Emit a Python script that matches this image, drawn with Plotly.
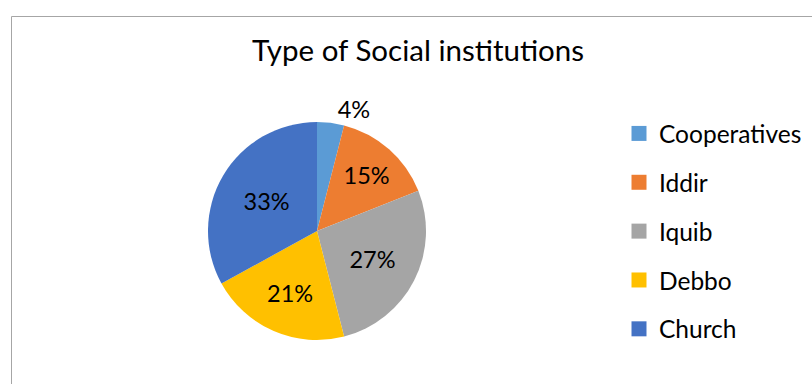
import plotly.graph_objects as go

categories = ["Cooperatives", "Iddir", "Iquib", "Debbo", "Church"]
values = [4, 15, 27, 21, 33]
colors = ["#5B9BD5", "#ED7D31", "#A5A5A5", "#FFC000", "#4472C4"]
title_text = "Type of Social institutions"

W, H = 812, 384
FONT = "Lato"

fig = go.Figure()
fig.add_trace(go.Pie(
    labels=categories, values=values, sort=False, direction="clockwise", rotation=0,
    marker=dict(colors=colors, line=dict(width=0)),
    texttemplate="%{percent:.0%}",
    textposition=["outside", "inside", "inside", "inside", "inside"],
    insidetextorientation="horizontal",
    textfont=dict(family=FONT, size=23.5, color="black"),
    outsidetextfont=dict(family=FONT, size=23.5, color="black"),
    showlegend=False, hoverinfo="label+percent",
    domain=dict(x=[208 / W, 426 / W], y=[(H - 340) / H, (H - 122) / H]),
))

for i, (c, col) in enumerate(zip(categories, colors)):
    fig.add_trace(go.Scatter(
        x=[None], y=[None], mode="markers", name=c, legendgroup=c,
        marker=dict(symbol="square", size=15, color=col),
    ))

fig.update_layout(
    width=W, height=H, margin=dict(l=0, r=0, t=0, b=0, autoexpand=False),
    paper_bgcolor="white", plot_bgcolor="white",
    title=dict(text=title_text, x=418 / W, xanchor="center", y=1 - 51 / H, yanchor="middle",
               font=dict(family=FONT, size=29.5, color="black")),
    xaxis=dict(visible=False), yaxis=dict(visible=False),
    legend=dict(x=619 / W, xanchor="left", y=1 - 111 / H, yanchor="top",
                font=dict(family=FONT, size=24.5, color="black"),
                tracegroupgap=14, bgcolor="rgba(0,0,0,0)"),
    shapes=[
        dict(type="line", xref="paper", yref="paper", x0=11.5 / W, x1=11.5 / W, y0=-0.1, y1=1 - 16.5 / H,
             line=dict(color="#A6A6A6", width=1)),
        dict(type="line", xref="paper", yref="paper", x0=11.5 / W, x1=1.1, y0=1 - 16.5 / H, y1=1 - 16.5 / H,
             line=dict(color="#A6A6A6", width=1)),
    ],
)

fig.write_html("out.html", config={"displayModeBar": False},
               post_script="document.body.style.margin='0';")
